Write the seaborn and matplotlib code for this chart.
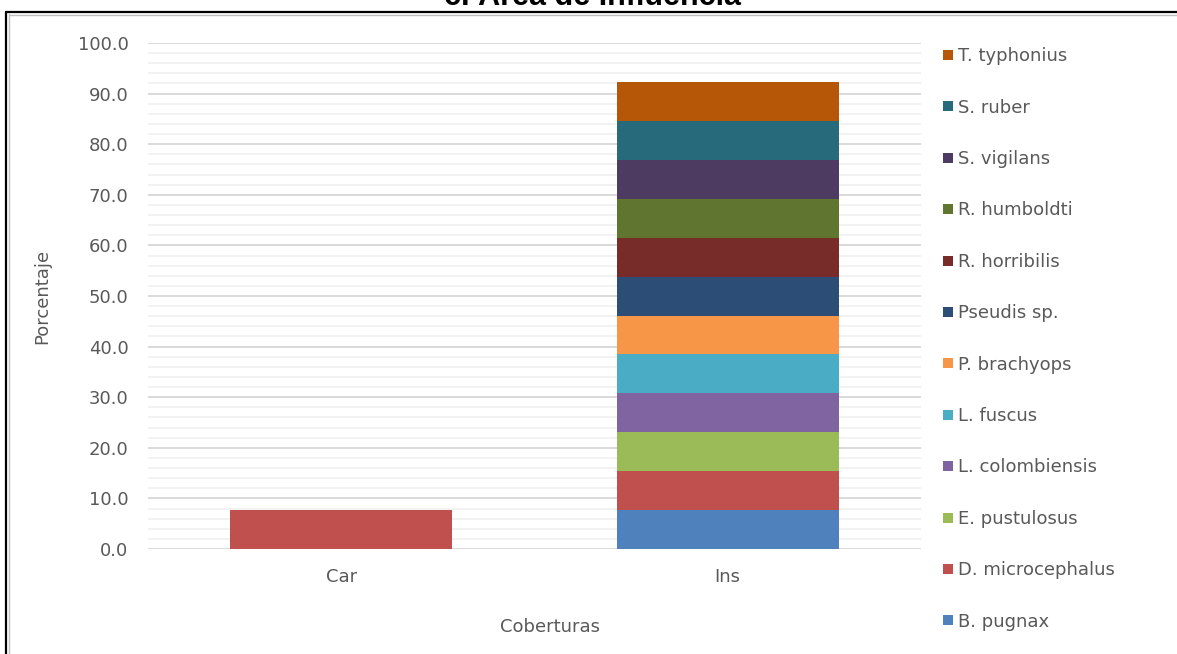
import matplotlib
matplotlib.use("Agg")
import matplotlib.pyplot as plt
from matplotlib.lines import Line2D
from matplotlib.ticker import MultipleLocator, FormatStrFormatter
import numpy as np
import seaborn as sns

# Coverage types on the x axis
coberturas = ["Car", "Ins"]

# Species, bottom of the stack first
especies = [
    "B. pugnax", "D. microcephalus", "E. pustulosus", "L. colombiensis",
    "L. fuscus", "P. brachyops", "Pseudis sp.", "R. horribilis",
    "R. humboldti", "S. vigilans", "S. ruber", "T. typhonius",
]

# Percentage of each species per coverage (Car, Ins)
b_pugnax = [0.0, 7.69]
d_microcephalus = [7.69, 7.69]
e_pustulosus = [0.0, 7.69]
l_colombiensis = [0.0, 7.69]
l_fuscus = [0.0, 7.69]
p_brachyops = [0.0, 7.69]
pseudis_sp = [0.0, 7.69]
r_horribilis = [0.0, 7.69]
r_humboldti = [0.0, 7.69]
s_vigilans = [0.0, 7.69]
s_ruber = [0.0, 7.69]
t_typhonius = [0.0, 7.69]

valores = [
    b_pugnax, d_microcephalus, e_pustulosus, l_colombiensis, l_fuscus,
    p_brachyops, pseudis_sp, r_horribilis, r_humboldti, s_vigilans,
    s_ruber, t_typhonius,
]

colores = [
    "#4F81BD", "#C0504D", "#9BBB59", "#8064A2", "#4BACC6", "#F79646",
    "#2C4D75", "#772C2A", "#5F7530", "#4D3B62", "#276A7C", "#B65708",
]

sns.set_theme(style="white")
plt.rcParams["font.family"] = ["DejaVu Sans"]
gris = "#595959"

fig = plt.figure(figsize=(11.77, 6.54), dpi=100)
ax = fig.add_axes([148 / 1177, 1 - 549 / 654, 773 / 1177, 506 / 654])

base = np.zeros(len(coberturas))
for nombre, vals, col in zip(especies, valores, colores):
    sns.barplot(x=coberturas, y=vals, bottom=base, color=col, saturation=1,
                width=0.575, linewidth=0, order=coberturas, ax=ax)
    base = base + np.array(vals)

ax.set_ylim(0, 100)
ax.yaxis.set_major_locator(MultipleLocator(10))
ax.yaxis.set_minor_locator(MultipleLocator(2))
ax.yaxis.set_major_formatter(FormatStrFormatter("%.1f"))
ax.grid(axis="y", which="major", color="#D9D9D9", linewidth=1.4, zorder=0)
ax.grid(axis="y", which="minor", color="#F2F2F2", linewidth=1.4, zorder=0)
ax.grid(axis="x", visible=False)
ax.set_axisbelow(True)
for s in ax.spines.values():
    s.set_visible(False)
ax.tick_params(axis="both", which="both", length=0, labelsize=13, colors=gris)
ax.tick_params(axis="y", pad=14)
ax.tick_params(axis="x", pad=14)

ax.set_xlabel("Coberturas", fontsize=13, color=gris)
ax.set_ylabel("Porcentaje", fontsize=13, color=gris)
ax.xaxis.set_label_coords(0.52, -0.137)
ax.yaxis.set_label_coords(-0.125, 0.5)

# Legend, top of the stack first
handles = [
    Line2D([0], [0], marker="s", linestyle="none", markersize=7.5,
           markerfacecolor=c, markeredgewidth=0)
    for c in colores[::-1]
]
fig.legend(handles, especies[::-1], loc="upper left",
           bbox_to_anchor=(935 / 1177, 1 - 40 / 654), frameon=False,
           fontsize=13, labelcolor=gris, handlelength=0.6,
           handletextpad=0.3, labelspacing=1.85, borderaxespad=0)

# Frame of the chart area
fig.add_artist(Line2D([6 / 1177, 6 / 1177], [0, 1 - 12 / 654],
                      color="black", linewidth=1.6, transform=fig.transFigure))
fig.add_artist(Line2D([6 / 1177, 1], [1 - 12 / 654, 1 - 12 / 654],
                      color="black", linewidth=1.6, transform=fig.transFigure))
fig.add_artist(Line2D([8.5 / 1177, 8.5 / 1177], [0, 1 - 14 / 654],
                      color="#BFBFBF", linewidth=1.0, transform=fig.transFigure))
fig.add_artist(Line2D([8.5 / 1177, 1], [1 - 14.5 / 654, 1 - 14.5 / 654],
                      color="#BFBFBF", linewidth=1.0, transform=fig.transFigure))

fig.text(593 / 1177, 1 - 5 / 654, "c. Área de Influencia", ha="center",
         va="baseline", fontsize=22, fontweight="bold", color="black",
         family="Liberation Sans")

fig.savefig("out.png", dpi=100, facecolor="white")
